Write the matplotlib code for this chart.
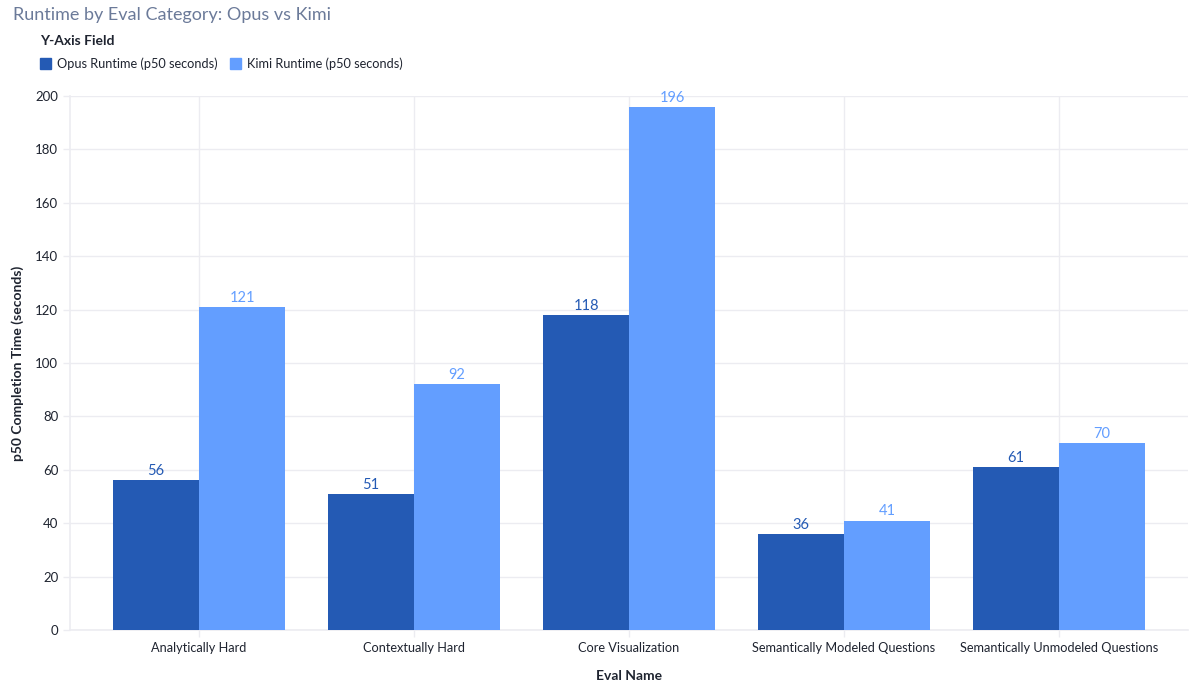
import numpy as np
import matplotlib
matplotlib.use("Agg")
import matplotlib.pyplot as plt
from matplotlib.patches import Rectangle

categories = ["Analytically Hard", "Contextually Hard", "Core Visualization",
              "Semantically Modeled Questions", "Semantically Unmodeled Questions"]
opus = [56, 51, 118, 36, 61]
kimi = [121, 92, 196, 41, 70]
series_names = ["Opus Runtime (p50 seconds)", "Kimi Runtime (p50 seconds)"]
yticks = [0, 20, 40, 60, 80, 100, 120, 140, 160, 180, 200]

OPUS_C = "#245ab4"
KIMI_C = "#639eff"
TEXT_C = "#1f2430"
GRID_C = "#ececf1"

plt.rcParams["font.family"] = ["Lato", "DejaVu Sans"]

fig = plt.figure(figsize=(12, 6.9), dpi=100)
ax = fig.add_axes([70/1200, 1-630/690, (1188-70)/1200, (630-96)/690])

x = np.arange(len(categories))
w = 0.4
b1 = ax.bar(x - w/2, opus, width=w, color=OPUS_C, zorder=3)
b2 = ax.bar(x + w/2, kimi, width=w, color=KIMI_C, zorder=3)

for rect, v in zip(b1, opus):
    ax.annotate(str(v), (rect.get_x() + rect.get_width()/2, v), xytext=(0, 1.5),
                textcoords="offset points", ha="center", va="bottom",
                fontsize=10.5, color=OPUS_C)
for rect, v in zip(b2, kimi):
    ax.annotate(str(v), (rect.get_x() + rect.get_width()/2, v), xytext=(0, 1.5),
                textcoords="offset points", ha="center", va="bottom",
                fontsize=10.5, color=KIMI_C)

ax.set_xlim(-0.6, len(categories) - 0.4)
ax.set_ylim(0, 200)
ax.set_yticks(yticks)
ax.set_xticks(x)
ax.set_xticklabels(categories)
ax.tick_params(axis="both", colors=GRID_C, labelcolor=TEXT_C, labelsize=9.2,
               length=5, width=1)
ax.tick_params(axis="y", labelsize=9.5)
ax.tick_params(axis="x", pad=4)
ax.grid(True, color=GRID_C, linewidth=1, zorder=0)
for s in ["top", "right"]:
    ax.spines[s].set_visible(False)
for s in ["left", "bottom"]:
    ax.spines[s].set_color(GRID_C)
    ax.spines[s].set_linewidth(1.2)

ax.set_xlabel("Eval Name", fontsize=10, fontweight="bold", color=TEXT_C, labelpad=11)
ax.set_ylabel("p50 Completion Time (seconds)", fontsize=10, fontweight="bold",
              color=TEXT_C, labelpad=8)

# title and legend
fig.text(13/1200, 1-15/690, "Runtime by Eval Category: Opus vs Kimi", fontsize=13,
         color="#6b7a99", va="center", ha="left")
fig.text(40/1200, 1-41/690, "Y-Axis Field", fontsize=10, fontweight="bold",
         color=TEXT_C, va="center", ha="left")
for xs, c, name in [(40, OPUS_C, series_names[0]), (230, KIMI_C, series_names[1])]:
    fig.patches.append(Rectangle((xs/1200, 1-69/690), 11/1200, 11/690,
                                 transform=fig.transFigure, color=c))
    fig.text((xs+17)/1200, 1-63.5/690, name, fontsize=9.2, color=TEXT_C,
             va="center", ha="left")

fig.savefig("out.png", dpi=100, facecolor="white")
